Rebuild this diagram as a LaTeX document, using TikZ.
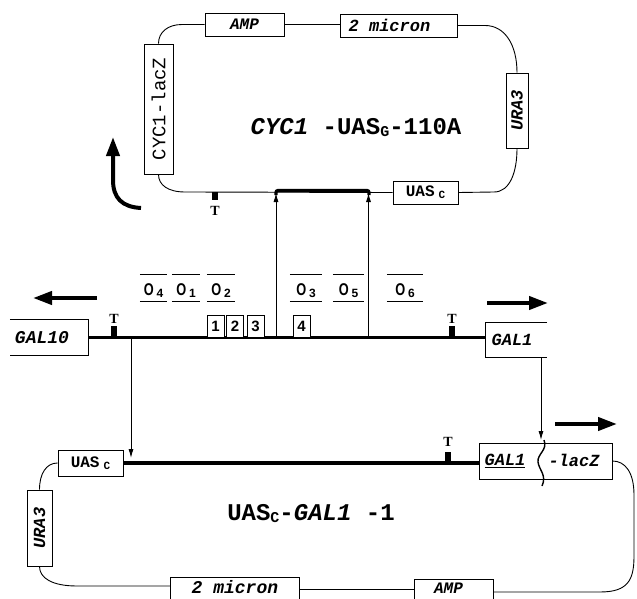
\documentclass[tikz,border=0pt]{standalone}
\usepackage{fontspec}
\setmonofont{Liberation Mono}
\newfontfamily\osans{Liberation Sans}
\newfontfamily\tserif{Liberation Serif}
\usetikzlibrary{arrows.meta}
\newcommand\fsz[1]{\fontsize{#1}{#1}\selectfont}
\newcommand\mybti[1]{\ttfamily\bfseries\itshape\fontsize{#1}{#1}\selectfont}
\newcommand\mybt[1]{\ttfamily\bfseries\fontsize{#1}{#1}\selectfont}
\newcommand\mytt[1]{\ttfamily\fontsize{#1}{#1}\selectfont}
\newcommand\oname[1]{\scalebox{0.75}[1]{O}\,\raisebox{-2pt}{\fontsize{12}{12}\selectfont #1}}
\begin{document}
\begin{tikzpicture}[x=1pt,y=-1pt,
  box/.style={draw, line width=0.9pt, inner sep=0pt, fill=white},
  thinline/.style={line width=0.9pt},
  dna/.style={line width=3.2pt},
  bigarrow/.style={line width=4pt, -{Triangle[length=19pt,width=13pt]}},
  conn/.style={line width=0.9pt, -{Latex[length=9pt,width=5pt]}},
  tmark/.style={fill=black, inner sep=0pt, minimum width=6pt},
  tlbl/.style={font=\tserif\bfseries\fsz{14}},
  olbl/.style={font=\osans\bfseries\fsz{17}},
  numbox/.style={draw, line width=0.9pt, fill=white, minimum width=17pt, minimum height=22pt, inner sep=0pt, font=\osans\bfseries\fsz{15}},
  plain/.style={inner sep=0pt}]
\useasboundingbox (0,0) rectangle (637,599);
\fill[white] (0,0) rectangle (637,599);

% ---------------- top plasmid ----------------
\node[box,minimum width=79pt,minimum height=23pt,font=\mybti{16}] (amp1) at (244.5,24.5) {AMP};
\node[box,minimum width=117pt,minimum height=23pt,label={[font=\mybti{17},xshift=-9pt]center:2 micron}] (mic1) at (398.5,25.5) {};
\node[box,minimum width=29pt,minimum height=130pt,font=\mytt{19}] (cyc) at (158.5,109) {\rotatebox{90}{CYC1-lacZ}};
\node[box,minimum width=22pt,minimum height=75pt,font=\mybti{17}] (ura1) at (517,110.5) {\rotatebox{90}{URA3}};
\node[box,minimum width=65pt,minimum height=23pt,font=\mybt{16}] (uasc1) at (425.5,192.5) {UAS\hspace{4pt}\raisebox{-2pt}{\fsz{11}C}};

\draw[thinline] (amp1.east) -- (amp1.east -| mic1.west);
\draw[thinline] (amp1.west) -- (182,24.5) .. controls (168,24.5) and (158.5,32) .. (cyc.north);
\draw[thinline] (mic1.east) -- (485,25.5) .. controls (505,25.5) and (517,45) .. (ura1.north);
\draw[thinline] (ura1.south) .. controls (517,172) and (510,192) .. (494,192) -- (uasc1.east);
\draw[thinline] (uasc1.west) -- (185,192) .. controls (168,192) and (158.5,185) .. (cyc.south);

\node[tmark,minimum height=8pt,anchor=north] (t1m) at (215,192) {};
\node[tlbl] (t1) at (215,211) {T};
\draw[dna, rounded corners=2pt] (276,195) -- (276,190.5) -- (369,190.5) -- (369,195);

\node[font=\mybt{24}] (name1) at (356,128) {{\itshape CYC1} -UAS\raisebox{-2pt}{\fsz{15}G}-110A};

\coordinate (ca1) at (141,208);
\coordinate (ca2) at (113,137);
\draw[bigarrow] (ca1) .. controls (122,207) and (113,198) .. (113,180) -- (ca2);

% ---------------- middle: GAL1-GAL10 region ----------------
\node[plain,minimum width=78pt,minimum height=35pt,label={[font=\mybti{18},xshift=-7pt]center:GAL10}] (gal10) at (49,337.5) {};
\draw[thinline] (gal10.north west) -- (gal10.north east) -- (gal10.south east) -- (gal10.south west);
\node[plain,minimum width=61pt,minimum height=34pt,label={[font=\mybti{17},xshift=-4.5pt]center:GAL1}] (gal1m) at (516.5,340) {};
\draw[thinline] (gal1m.north east) -- (gal1m.north west) -- (gal1m.south west) -- (gal1m.south east);

\draw[dna] (gal10.east) -- (gal1m.west |- gal10.east);

\node[tmark,minimum height=11pt,anchor=south] (t2m) at (114,337.5) {};
\node[tlbl] (t2) at (114,319) {T};
\node[tmark,minimum height=11pt,anchor=south] (t3m) at (452,337.5) {};
\node[tlbl] (t3) at (452,319) {T};

\node[numbox] (n1) at (215.5,326) {1};
\node[numbox] (n2) at (235,326) {2};
\node[numbox] (n3) at (255.5,326) {3};
\node[numbox] (n4) at (301.5,326) {4};

\foreach \nm/\xc/\w/\dg in {o4/153.5/27/4, o1/186/28/1, o2/221/28/2, o3/306/32/3, o5/348.5/31/5, o6/405/36/6} {
  \node[plain,minimum width=\w pt,minimum height=26.5pt,label={[olbl,yshift=-3pt]center:\oname{\dg}}] (\nm) at (\xc,288) {};
  \draw[thinline] (\nm.north west) -- (\nm.north east) (\nm.south west) -- (\nm.south east);
}

\coordinate (u1b) at (276,337.5); \coordinate (u1t) at (276,193);
\coordinate (u2b) at (368.5,337.5); \coordinate (u2t) at (368.5,193);
\draw[conn] (u1b) -- (u1t);
\draw[conn] (u2b) -- (u2t);

\coordinate (la1) at (97,298); \coordinate (la2) at (33,298);
\draw[bigarrow] (la1) -- (la2);
\coordinate (ra1) at (487,303); \coordinate (ra2) at (548,303);
\draw[bigarrow] (ra1) -- (ra2);

% ---------------- bottom plasmid ----------------
\node[box,minimum width=65pt,minimum height=26pt,font=\mybt{16}] (uasc2) at (90.5,463) {UAS\hspace{4pt}\raisebox{-2pt}{\fsz{11}C}};
\node[box,minimum width=133pt,minimum height=36pt] (gallac) at (545.5,461) {};
\node[font=\mybti{17}] (g1txt) at (505,461) {\underline{GAL1}};
\node[font=\mybti{17}] (lztxt) at (574,460) {-lacZ};
\draw[line width=1.4pt] (544,440) .. controls (548,450) and (537,454) .. (538,462) .. controls (539,470) and (547,475) .. (542,486);

\node[box,minimum width=25pt,minimum height=76pt,font=\mybti{17}] (ura2) at (39.5,528) {\rotatebox{90}{URA3}};
\node[box,minimum width=129pt,minimum height=30pt,anchor=north west,label={[font=\mybti{18},yshift=5pt]center:2 micron}] (mic2) at (170,577) {};
\node[box,minimum width=79pt,minimum height=30pt,anchor=north west,label={[font=\mybti{16},xshift=-5.5pt,yshift=6pt]center:AMP}] (amp2) at (414,579) {};

\draw[dna] (uasc2.east) -- (gallac.west |- uasc2.east);
\node[tmark,minimum height=11pt,anchor=south] (t4m) at (448,463) {};
\node[tlbl] (t4) at (448,442) {T};

\draw[thinline] (uasc2.west) .. controls (46,463) and (39.5,474) .. (ura2.north);
\draw[thinline] (ura2.south) .. controls (39.5,578) and (52,586) .. (77,586) -- ([yshift=-9pt]mic2.north west);
\draw[thinline] ([yshift=-12pt]mic2.north east) -- ([yshift=-10pt]amp2.north west);
\draw[thinline] ([yshift=-13pt]amp2.north east) -- (600,592) .. controls (628,592) and (634,580) .. (634,556) -- (634,495) .. controls (634,472) and (625,461) .. (gallac.east);

\node[font=\mybt{24}] (name2) at (311,514) {UAS\raisebox{-2pt}{\fsz{15}C}-{\itshape GAL1} -1};

\coordinate (d1a) at (131,337.5); \coordinate (d1b) at (131,458);
\draw[conn] (d1a) -- (d1b);
\coordinate (d2a) at (541,357); \coordinate (d2b) at (541,440);
\draw[conn] (d2a) -- (d2b);

\coordinate (ba1) at (555,424); \coordinate (ba2) at (617,424);
\draw[bigarrow] (ba1) -- (ba2);
\end{tikzpicture}
\end{document}
